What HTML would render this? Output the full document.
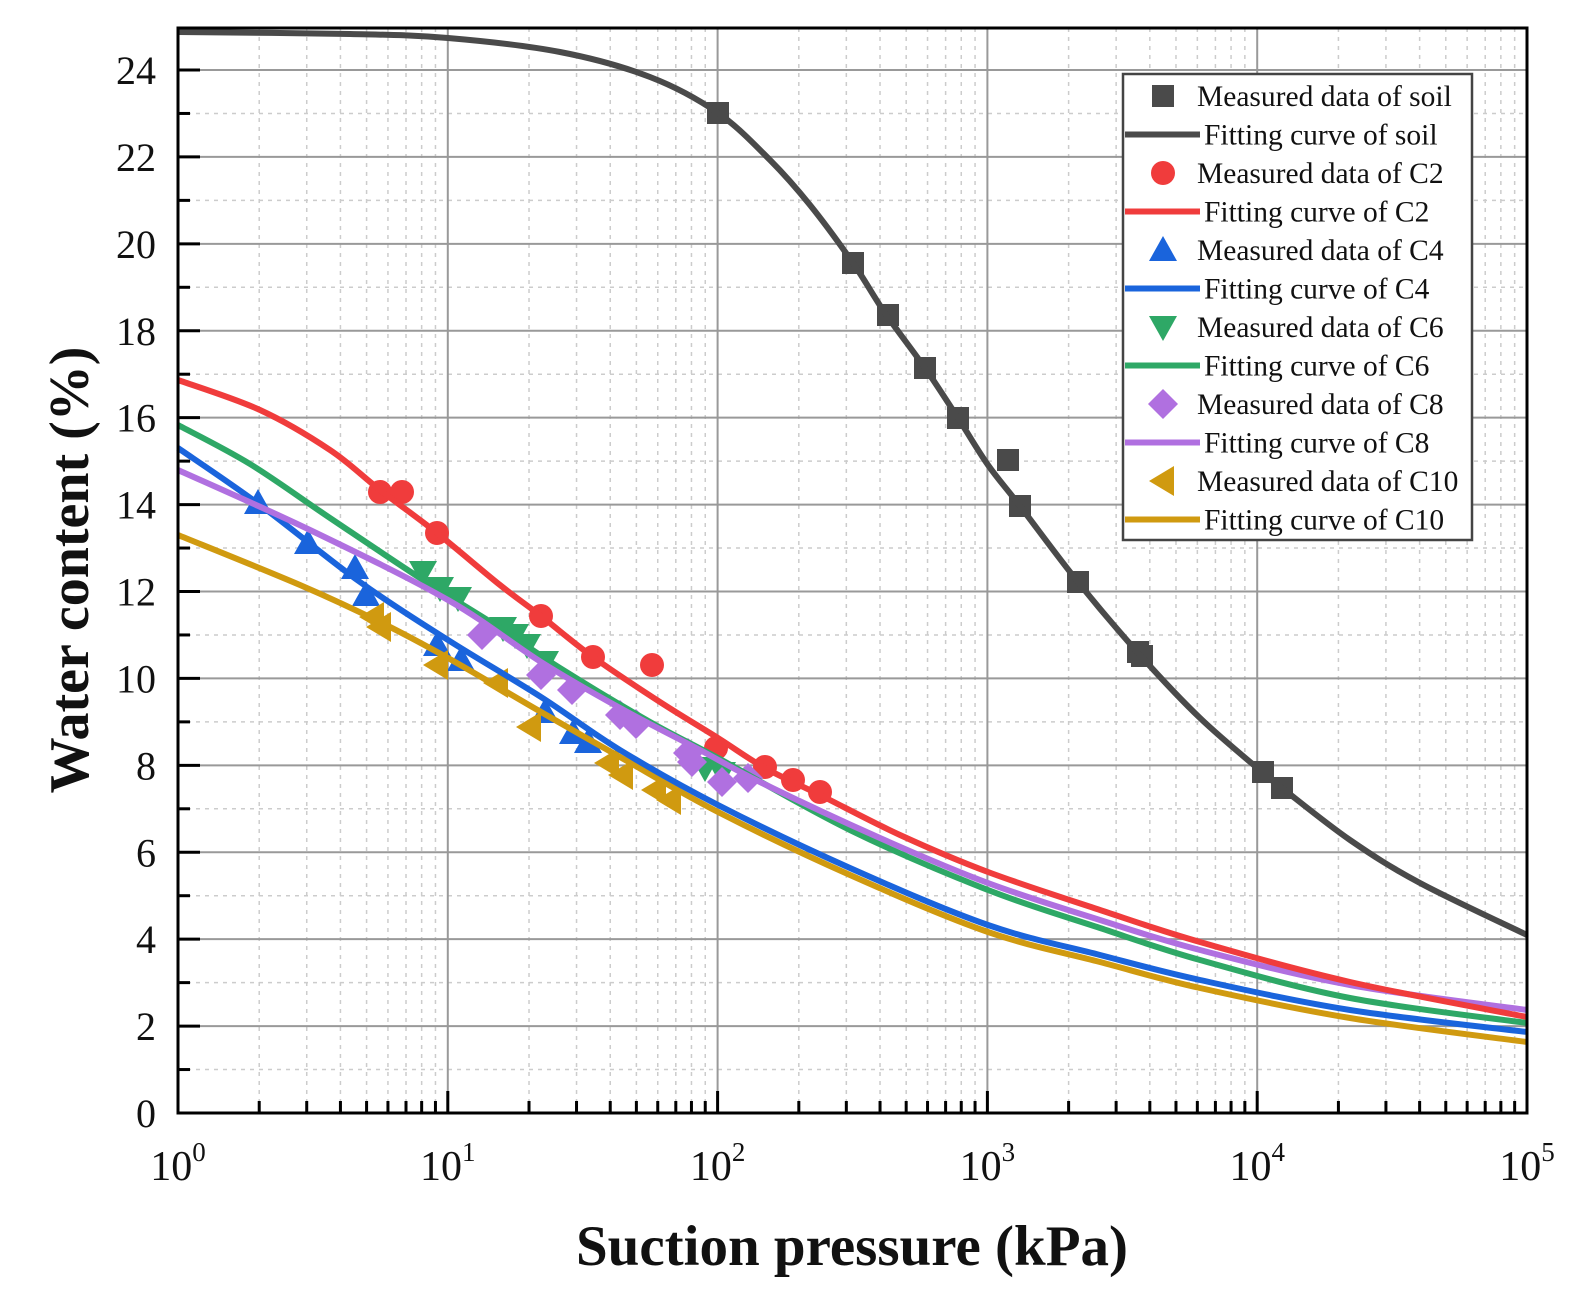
<!DOCTYPE html>
<html><head><meta charset="utf-8"><style>
html,body{margin:0;padding:0;background:#fff;}
svg text{font-family:"Liberation Serif",serif;fill:#111;}
</style></head><body>
<svg id="s" width="1571" height="1296" xmlns="http://www.w3.org/2000/svg"></svg>
<script>
const s=document.getElementById('s');
let h='';
const L=178,R=1527,T=28,B=1113,dec=(R-L)/5,uy=(1113-70)/24;
const Y=v=>B-v*uy;
for(let d=0;d<5;d++)for(let k=2;k<10;k++){const x=L+dec*(d+Math.log10(k));h+=`<line x1="${x}" y1="${T}" x2="${x}" y2="${B}" stroke="#ccc" stroke-width="1.5" stroke-dasharray="4,5"/>`;h+=`<line x1="${x}" y1="${B}" x2="${x}" y2="${B-12}" stroke="#000" stroke-width="3"/>`;}
for(let v=1;v<25;v+=2){h+=`<line x1="${L}" y1="${Y(v)}" x2="${R}" y2="${Y(v)}" stroke="#ccc" stroke-width="1.5" stroke-dasharray="4,5"/>`;h+=`<line x1="${L}" y1="${Y(v)}" x2="${L+12}" y2="${Y(v)}" stroke="#000" stroke-width="3"/>`;}
for(let d=1;d<5;d++){const x=L+dec*d;h+=`<line x1="${x}" y1="${T}" x2="${x}" y2="${B}" stroke="#999" stroke-width="2"/>`;h+=`<line x1="${x}" y1="${B}" x2="${x}" y2="${B-22}" stroke="#000" stroke-width="3"/>`;}
for(let v=2;v<=24;v+=2){h+=`<line x1="${L}" y1="${Y(v)}" x2="${R}" y2="${Y(v)}" stroke="#999" stroke-width="2"/>`;h+=`<line x1="${L}" y1="${Y(v)}" x2="${L+22}" y2="${Y(v)}" stroke="#000" stroke-width="3"/>`;}
for(let v=0;v<=24;v+=2)h+=`<text x="${L-22}" y="${Y(v)+14}" font-size="40" text-anchor="end">${v}</text>`;
for(let d=0;d<=5;d++){const x=L+dec*d;h+=`<text x="${x}" y="1180" font-size="42" text-anchor="middle">10<tspan font-size="27" dy="-19">${d}</tspan></text>`;}
function smooth(p){let d=`M${p[0][0]},${p[0][1]}`;for(let i=0;i<p.length-1;i++){const p0=p[i-1]||p[i],p1=p[i],p2=p[i+1],p3=p[i+2]||p2;d+=` C${p1[0]+(p2[0]-p0[0])/6},${p1[1]+(p2[1]-p0[1])/6} ${p2[0]-(p3[0]-p1[0])/6},${p2[1]-(p3[1]-p1[1])/6} ${p2[0]},${p2[1]}`;}return d;}
const C={soil:'#4a4a4a',c2:'#f03c3c',c4:'#1a64dc',c6:'#2ea866',c8:'#b070e0',c10:'#d09a10'};
const curves=[
['c10',[[178,535],[300,585],[380,622],[448,658],[541,712],[620,757],[718,812],[850,875],[988,932],[1100,962],[1200,988],[1350,1018],[1527,1042]]],
['c4',[[178,448],[260,505],[360,582],[448,640],[541,697],[620,750],[718,805],[850,868],[988,925],[1100,955],[1200,980],[1350,1010],[1527,1032]]],
['c6',[[178,425],[250,464],[330,518],[420,578],[500,628],[560,668],[650,722],[718,758],[850,830],[988,890],[1100,928],[1200,960],[1350,998],[1527,1023]]],
['c8',[[178,470],[310,530],[448,600],[541,662],[620,708],[700,750],[760,782],[880,838],[988,883],[1100,920],[1200,950],[1350,985],[1527,1010]]],
['c2',[[178,380],[260,410],[330,450],[380,490],[437,533],[500,585],[541,616],[593,657],[660,702],[718,738],[765,768],[820,795],[900,835],[988,872],[1100,910],[1200,942],[1350,982],[1527,1017]]],
['soil',[[178,32],[350,34],[448,38],[560,52],[650,77],[718,113],[770,160],[810,205],[853,263],[885,313],[925,368],[958,418],[988,465],[1020,506],[1078,582],[1140,655],[1200,718],[1262,772],[1282,788],[1350,840],[1420,883],[1527,935]]]];
function mk(t,x,y,c){
 if(t=='sq')return `<rect x="${x-11}" y="${y-11}" width="22" height="22" fill="${c}"/>`;
 if(t=='ci')return `<circle cx="${x}" cy="${y}" r="12" fill="${c}"/>`;
 if(t=='up')return `<polygon points="${x},${y-14} ${x-14},${y+11} ${x+14},${y+11}" fill="${c}"/>`;
 if(t=='dn')return `<polygon points="${x},${y+14} ${x-14},${y-11} ${x+14},${y-11}" fill="${c}"/>`;
 if(t=='di')return `<polygon points="${x},${y-15} ${x+15},${y} ${x},${y+15} ${x-15},${y}" fill="${c}"/>`;
 if(t=='lf')return `<polygon points="${x-14},${y} ${x+11},${y-15} ${x+11},${y+15}" fill="${c}"/>`;
}
const pts=[
['sq','soil',[[718,113],[853,263],[888,315],[925,368],[958,418],[1008,460],[1020,506],[1078,582],[1138,652],[1142,656],[1263,772],[1282,788]]],
['ci','c2',[[380,492],[402,492],[437,533],[541,616],[593,657],[652,665],[716,748],[765,767],[793,780],[820,792]]],
['up','c4',[[258,503],[308,543],[355,568],[366,595],[437,645],[461,660],[545,712],[573,733],[588,742]]],
['dn','c6',[[423,572],[440,588],[458,598],[503,628],[515,635],[527,645],[545,662],[705,768],[722,773]]],
['di','c8',[[482,635],[541,675],[572,690],[620,715],[636,724],[688,753],[692,762],[722,782],[748,778]]],
['lf','c10',[[373,617],[380,627],[437,665],[497,683],[530,727],[608,763],[622,775],[655,790],[670,800]]]];
for(const [t,c,p] of pts)for(const q of p)h+=mk(t,q[0],q[1],C[c]);
for(const [c,p] of curves)h+=`<path d="${smooth(p)}" fill="none" stroke="${C[c]}" stroke-width="6"/>`;
h+=`<rect x="${L}" y="${T}" width="${R-L}" height="${B-T}" fill="none" stroke="#000" stroke-width="3"/>`;
h+=`<rect x="1123" y="74" width="349" height="466" fill="#fff" stroke="#444" stroke-width="2.5"/>`;
const leg=[['sq','soil','Measured data of soil'],['l','soil','Fitting curve of soil'],['ci','c2','Measured data of C2'],['l','c2','Fitting curve of C2'],['up','c4','Measured data of C4'],['l','c4','Fitting curve of C4'],['dn','c6','Measured data of C6'],['l','c6','Fitting curve of C6'],['di','c8','Measured data of C8'],['l','c8','Fitting curve of C8'],['lf','c10','Measured data of C10'],['l','c10','Fitting curve of C10']];
leg.forEach((e,i)=>{const y=96+i*38.5;
 if(e[0]=='l'){h+=`<line x1="1125" y1="${y}" x2="1200" y2="${y}" stroke="${C[e[1]]}" stroke-width="6"/>`;h+=`<text x="1204" y="${y+10}" font-size="29.5">${e[2]}</text>`;}
 else{h+=mk(e[0],1163,y,C[e[1]]);h+=`<text x="1197" y="${y+10}" font-size="29.5">${e[2]}</text>`;}
});
h+=`<text x="852" y="1265" font-size="57" font-weight="bold" text-anchor="middle">Suction pressure (kPa)</text>`;
h+=`<text transform="translate(88,570) rotate(-90)" font-size="56" font-weight="bold" text-anchor="middle">Water content (%)</text>`;
s.innerHTML=h;
</script>
</body></html>
